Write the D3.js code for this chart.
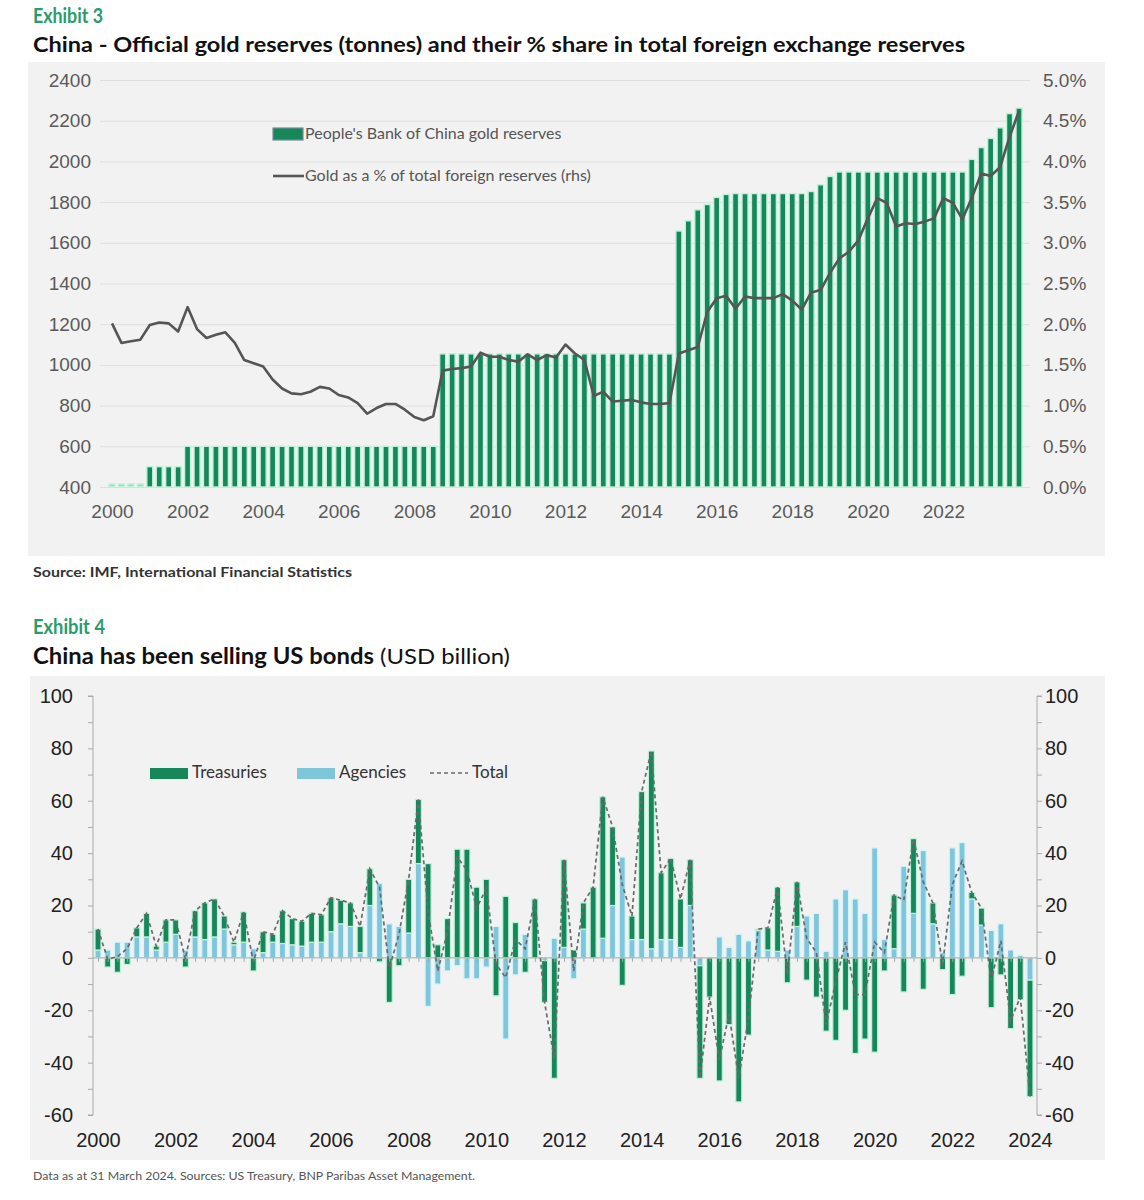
<!DOCTYPE html>
<html>
<head>
<meta charset="utf-8">
<script src="https://cdn.jsdelivr.net/npm/d3@7"></script>
<style>
  body { margin: 0; background: #fff; }
  svg text { font-family: "Liberation Sans", Arial, sans-serif; }
  .hum { font-family: Lato, "Open Sans", sans-serif !important; }
</style>
</head>
<body>
<div id="chart"></div>
<script>
// ---- Exhibit 3: quarterly, 2000Q1 .. 2024Q1 ----
const goldTonnes = [
  395, 395, 395, 395, 500, 500, 500, 500,
  600, 600, 600, 600, 600, 600, 600, 600, 600, 600, 600, 600, 600, 600,
  600, 600, 600, 600, 600, 600, 600, 600, 600, 600, 600, 600, 600,
  1054, 1054, 1054, 1054, 1054, 1054, 1054, 1054, 1054, 1054, 1054, 1054, 1054,
  1054, 1054, 1054, 1054, 1054, 1054, 1054, 1054, 1054, 1054, 1054, 1054,
  1658, 1708, 1762, 1788, 1823, 1838,
  1842, 1842, 1842, 1842, 1842, 1842, 1842, 1842,
  1852, 1885, 1926,
  1948, 1948, 1948, 1948, 1948, 1948, 1948, 1948, 1948, 1948, 1948, 1948, 1948, 1948,
  2010, 2068, 2113, 2165, 2235, 2262
];
const goldShare = [
  2.01, 1.77, 1.79, 1.81, 1.99, 2.02, 2.01, 1.91, 2.21, 1.94, 1.83, 1.87, 1.90, 1.77, 1.56, 1.52,
  1.48, 1.32, 1.21, 1.15, 1.14, 1.17, 1.23, 1.21, 1.13, 1.10, 1.03, 0.90, 0.97, 1.02, 1.02, 0.95,
  0.86, 0.82, 0.87, 1.43, 1.45, 1.46, 1.48, 1.65, 1.60, 1.60, 1.56, 1.54, 1.63, 1.56, 1.62, 1.59,
  1.75, 1.64, 1.56, 1.12, 1.17, 1.05, 1.06, 1.07, 1.04, 1.02, 1.02, 1.03, 1.64, 1.68, 1.72, 2.15,
  2.32, 2.35, 2.19, 2.34, 2.32, 2.32, 2.32, 2.37, 2.29, 2.18, 2.39, 2.42, 2.63, 2.81, 2.89, 3.03,
  3.30, 3.55, 3.49, 3.20, 3.24, 3.23, 3.26, 3.30, 3.55, 3.49, 3.29, 3.55, 3.85, 3.82, 3.93, 4.30,
  4.62
];
const tonneTicks = [400, 600, 800, 1000, 1200, 1400, 1600, 1800, 2000, 2200, 2400];
const shareTicks = [0, 0.5, 1, 1.5, 2, 2.5, 3, 3.5, 4, 4.5, 5];

// ---- Exhibit 4: quarterly net purchases, USD bn, 2000Q1 .. 2024Q1 ----
const treasuries = [
  8, -3.5, -5.5, -2.5, 3.5, 9, 1.5, 8.5, 5.5, -3.5, 10, 14, 14.5, 5, 1, 11.5,
  -5, 8, 3, 12.5, 10, 9.5, 11, 10.5, 13, 9, 9, 10, 14, -1.5, -17, -3,
  20.5, 24.5, 36, 5, 15, 41.5, 41.5, 27, 30, -14.5, 23.5, 13.5, -5.5, 22.5, -16, -46,
  33.5, 3, 10, 27, 54, 30, -10.5, 9, 56.5, 75.5, 25.5, 31, 18.5, 17.5, -43, -15,
  -47, -25.5, -55, -29.5, 0.5, 8.5, 24.5, -9.5, 17, -8.5, -15, -28, -31.5, -20, -36.5, -31,
  -36, -5, 20.5, -13, 28.5, -12, 8, -4.5, -14, -7, 2.5, 6.5, -19, -6.5, -27, -16,
  -44.5
];
const agencies = [
  3, 3, 6, 6, 8, 8, 3, 6, 9, 3, 8, 7, 8, 11, 5, 6,
  3.5, 2, 6, 5.5, 5, 4.5, 6, 6, 10, 13, 12, 2, 20, 28.5, 13, 12,
  9.5, 36, -18.5, -10, -5, -3, -8, -8, -3.5, 12, -31, -6.5, 9, 0, -1, 7.5,
  4, -8, 11, 0, 7.5, 20, 38.5, 7, 7, 3.5, 7, 7, 4, 20, -3, 0,
  8, 4, 9, 6.5, 10.5, 3, 2.5, 3, 12, 16, 17, 2.5, 22.5, 26, 22.5, 17,
  42, 7, 3.5, 35, 17, 41, 13, 2, 42, 44, 22.5, 12.5, 10.5, 13, 3, 1,
  -8.5
];
const bondTicks = [-60, -40, -20, 0, 20, 40, 60, 80, 100];

const firstYear = 2000;
const green = '#16875a', mint = '#bdf3d9', blue = '#7fc6db', paleBlue = '#d6f4fa';
const axisGrey = '#5a5a5a';

const svg = d3.select('#chart').append('svg')
  .attr('width', 1144).attr('height', 1200);

// ---------- headings ----------
function heading(y, txt, len, size, weight, fill) {
  return svg.append('text').attr('class', 'hum')
    .attr('x', 33).attr('y', y)
    .attr('textLength', len).attr('lengthAdjust', 'spacingAndGlyphs')
    .style('font-size', size + 'px').style('font-weight', weight).attr('fill', fill)
    .text(txt);
}
heading(23, 'Exhibit 3', 70, 21, 700, '#2a9b6b');
heading(52, 'China - Official gold reserves (tonnes) and their % share in total foreign exchange reserves', 932, 21, 700, '#111');
heading(577, 'Source: IMF, International Financial Statistics', 319, 13, 700, '#333');
heading(634, 'Exhibit 4', 72, 21, 700, '#2a9b6b');
const t2 = svg.append('text').attr('class', 'hum').attr('x', 33).attr('y', 664)
  .attr('textLength', 477).attr('lengthAdjust', 'spacingAndGlyphs')
  .style('font-size', '22px').attr('fill', '#111');
t2.append('tspan').style('font-weight', 700).text('China has been selling US bonds');
t2.append('tspan').style('font-weight', 400).text(' (USD billion)');
heading(1180, 'Data as at 31 March 2024.  Sources: US Treasury, BNP Paribas Asset Management.', 442, 11, 400, '#555');

// ---------- Exhibit 3 ----------
svg.append('rect').attr('x', 28).attr('y', 62).attr('width', 1077).attr('height', 494).attr('fill', '#f2f2f2');

const xTop = d3.scaleLinear().domain([0, goldTonnes.length - 1]).range([112, 1019]);
const yTon = d3.scaleLinear().domain([400, 2400]).range([487, 80]);
const yPct = d3.scaleLinear().domain([0, 5]).range([487, 80]);

// gridlines
const grid = svg.append('g').attr('transform', 'translate(100,0)')
  .call(d3.axisLeft(yTon).tickValues(tonneTicks).tickSize(-930).tickFormat(''));
grid.select('.domain').remove();
grid.selectAll('line').attr('stroke', '#dedede');

// left axis labels
const lAx = svg.append('g').attr('transform', 'translate(91,0)')
  .call(d3.axisLeft(yTon).tickValues(tonneTicks).tickSize(0).tickPadding(0)
    .tickFormat(d => String(d)));
lAx.select('.domain').remove();
lAx.selectAll('text').style('font-size', '19px').attr('fill', axisGrey);

// right axis labels
const rAx = svg.append('g').attr('transform', 'translate(1043,0)')
  .call(d3.axisRight(yPct).tickValues(shareTicks).tickSize(0).tickPadding(0)
    .tickFormat(d => d.toFixed(1) + '%'));
rAx.select('.domain').remove();
rAx.selectAll('text').style('font-size', '19px').attr('fill', axisGrey);

// bars
const barW = 6;
svg.append('g').selectAll('rect').data(goldTonnes).join('rect')
  .attr('x', (d, i) => xTop(i) - barW / 2)
  .attr('y', d => d < 400 ? yTon(400) - 3 : yTon(d))
  .attr('width', barW)
  .attr('height', d => d < 400 ? 2.5 : yTon(400) - yTon(d))
  .attr('fill', d => d < 400 ? '#8fd9b6' : green)
  .attr('stroke', mint).attr('stroke-width', 1.4);

// share line
svg.append('path').datum(goldShare)
  .attr('fill', 'none').attr('stroke', '#555').attr('stroke-width', 2.6)
  .attr('stroke-linejoin', 'round')
  .attr('d', d3.line().x((d, i) => xTop(i)).y(d => yPct(d)));

// x axis (year labels every 8 quarters)
const xAx = svg.append('g').attr('transform', 'translate(0,504)')
  .call(d3.axisBottom(xTop).tickValues(d3.range(0, 89, 8)).tickSize(0).tickPadding(0)
    .tickFormat(i => firstYear + i / 4));
xAx.select('.domain').remove();
xAx.selectAll('text').style('font-size', '19px').attr('fill', axisGrey).attr('dy', '0.75em');

// legend
const lg = svg.append('g').attr('class', 'hum');
lg.append('rect').attr('x', 273).attr('y', 128).attr('width', 30).attr('height', 12)
  .attr('fill', green).attr('stroke', '#7a8a9a').attr('stroke-width', 1.2);
lg.append('text').attr('class', 'hum').attr('x', 305).attr('y', 139).style('font-size', '16px')
  .attr('fill', '#555').text("People's Bank of China gold reserves");
lg.append('line').attr('x1', 273).attr('x2', 304).attr('y1', 176).attr('y2', 176)
  .attr('stroke', '#555').attr('stroke-width', 2.6);
lg.append('text').attr('class', 'hum').attr('x', 305).attr('y', 181).style('font-size', '16px')
  .attr('fill', '#555').text('Gold as a % of total foreign reserves (rhs)');

// ---------- Exhibit 4 ----------
svg.append('rect').attr('x', 30).attr('y', 676).attr('width', 1075).attr('height', 484).attr('fill', '#f2f2f2');

const xBot = d3.scaleLinear().domain([0, treasuries.length - 1]).range([98, 1030]);
const yBn = d3.scaleLinear().domain([-60, 100]).range([1115, 696]);

const rows = treasuries.map((t, i) => ({ agencies: agencies[i], treasuries: t }));
const stacked = d3.stack().keys(['agencies', 'treasuries']).offset(d3.stackOffsetDiverging)(rows);
const fills = { agencies: blue, treasuries: green };
const strokes = { agencies: paleBlue, treasuries: mint };

// side axes with minor ticks every 10
const minor = d3.range(-60, 101, 10);
const lAx2 = svg.append('g').attr('transform', 'translate(93,0)')
  .call(d3.axisLeft(yBn).tickValues(minor).tickSize(5).tickFormat(''));
const rAx2 = svg.append('g').attr('transform', 'translate(1037,0)')
  .call(d3.axisRight(yBn).tickValues(minor).tickSize(5).tickFormat(''));
[lAx2, rAx2].forEach(g => {
  g.selectAll('path,line').attr('stroke', '#aaa');
  g.select('.domain').attr('d', g === lAx2 ? 'M-5,696H0V1115H-5' : 'M5,696H0V1115H5');
});

const lLab = svg.append('g').attr('transform', 'translate(73,0)')
  .call(d3.axisLeft(yBn).tickValues(bondTicks).tickSize(0).tickPadding(0)
    .tickFormat(d => String(d)));
const rLab = svg.append('g').attr('transform', 'translate(1045,0)')
  .call(d3.axisRight(yBn).tickValues(bondTicks).tickSize(0).tickPadding(0)
    .tickFormat(d => String(d)));
[lLab, rLab].forEach(g => {
  g.select('.domain').remove();
  g.selectAll('text').style('font-size', '20px').attr('fill', '#222');
});

// bars
const bw = 6;
svg.append('g').selectAll('g').data(stacked).join('g')
  .attr('fill', s => fills[s.key]).attr('stroke', s => strokes[s.key]).attr('stroke-width', 1.2)
  .selectAll('rect').data(s => s).join('rect')
  .attr('x', (d, i) => xBot(i) - bw / 2)
  .attr('y', d => yBn(Math.max(d[0], d[1])))
  .attr('width', bw)
  .attr('height', d => Math.abs(yBn(d[0]) - yBn(d[1])));

// zero axis with small quarter ticks
const zAx = svg.append('g').attr('transform', `translate(0,${yBn(0)})`)
  .call(d3.axisBottom(xBot).tickValues(d3.range(0, treasuries.length)).tickSize(4).tickFormat(''));
zAx.selectAll('path,line').attr('stroke', '#a8a8a8');
zAx.select('.domain').attr('d', 'M93,0H1037');

// total (dashed)
svg.append('path').datum(rows)
  .attr('fill', 'none').attr('stroke', '#6a6a6a').attr('stroke-width', 1.7)
  .attr('stroke-dasharray', '4,3')
  .attr('d', d3.line().x((d, i) => xBot(i)).y(d => yBn(d.agencies + d.treasuries)));

// year labels
const xAx2 = svg.append('g').attr('transform', 'translate(0,1132)')
  .call(d3.axisBottom(xBot).tickValues(d3.range(0, 97, 8)).tickSize(0).tickPadding(0)
    .tickFormat(i => firstYear + i / 4));
xAx2.select('.domain').remove();
xAx2.selectAll('text').style('font-size', '20px').attr('fill', '#222').attr('dy', '0.75em');

// legend
const lg2 = svg.append('g');
lg2.append('rect').attr('x', 150).attr('y', 768).attr('width', 38).attr('height', 11).attr('fill', green);
lg2.append('text').attr('class', 'hum').attr('x', 192).attr('y', 778).style('font-size', '17px')
  .attr('fill', '#333').text('Treasuries');
lg2.append('rect').attr('x', 297).attr('y', 768).attr('width', 38).attr('height', 11).attr('fill', blue);
lg2.append('text').attr('class', 'hum').attr('x', 339).attr('y', 778).style('font-size', '17px')
  .attr('fill', '#333').text('Agencies');
lg2.append('line').attr('x1', 430).attr('x2', 468).attr('y1', 773).attr('y2', 773)
  .attr('stroke', '#6a6a6a').attr('stroke-width', 1.5).attr('stroke-dasharray', '4,3');
lg2.append('text').attr('class', 'hum').attr('x', 472).attr('y', 778).style('font-size', '17px')
  .attr('fill', '#333').text('Total');
</script>
</body>
</html>
